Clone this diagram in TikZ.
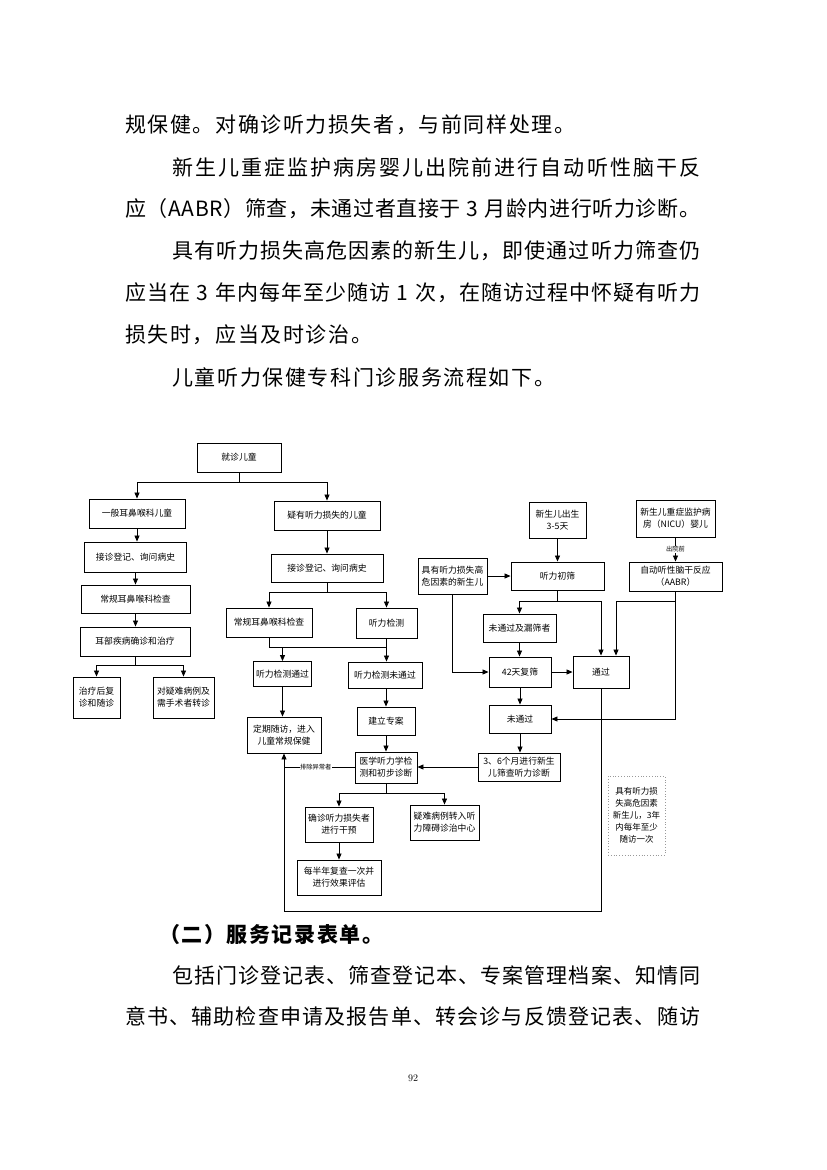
\documentclass[tikz,border=0pt]{standalone}
\usepackage{fontspec}
\newfontfamily\cjk{Noto Sans CJK SC}
\usetikzlibrary{arrows.meta}
\makeatletter
\def\jl@#1{\ifx\relax#1\unskip\else#1\hskip0pt plus1fil\relax\expandafter\jl@\fi}
\newcommand\jline[2]{\makebox[#1][s]{\jl@#2\relax}}
\makeatother
\tikzset{
  wh/.style 2 args={minimum width=#1pt,minimum height=#2pt},
  bx/.style={draw, line width=0.9pt, inner sep=1pt, align=center,
    font=\cjk\fontsize{8.8}{12}\selectfont},
  ln/.style={line width=0.8pt},
  arr/.style={line width=0.8pt, -{Triangle[length=6pt,width=5pt]}},
  lbl/.style={fill=white, inner sep=0.5pt, font=\cjk\fontsize{6.3}{7}\selectfont},
  bt/.style={anchor=west, inner sep=0pt, font=\cjk\fontsize{21}{21}\selectfont},
  note/.style={draw=gray!80, line width=0.8pt, dash pattern=on 0.8pt off 2pt,
    align=center, inner sep=1pt, font=\cjk\fontsize{8.5}{12}\selectfont}
}
\begin{document}
\begin{tikzpicture}[x=1pt,y=-1pt]
\fill[white] (0,0) rectangle (827,1170);
\path[use as bounding box] (0,0) rectangle (827,1170);

% body text
\node[bt] (l1) at (125,125) {\jline{450pt}{规保健。对确诊听力损失者，与前同样处理。}};
\node[bt] (l2) at (172,167) {\jline{528pt}{新生儿重症监护病房婴儿出院前进行自动听性脑干反}};
\node[bt] (l3) at (125,209) {\jline{575pt}{应（AABR）筛查，未通过者直接于~3~月龄内进行听力诊断。}};
\node[bt] (l4) at (172,251) {\jline{528pt}{具有听力损失高危因素的新生儿，即使通过听力筛查仍}};
\node[bt] (l5) at (125,293) {\jline{575pt}{应当在~3~年内每年至少随访~1~次，在随访过程中怀疑有听力}};
\node[bt] (l6) at (125,335) {\jline{247pt}{损失时，应当及时诊治。}};
\node[bt] (l7) at (172,377) {\jline{383pt}{儿童听力保健专科门诊服务流程如下。}};
\node[bt] (h2) at (159,935) {\bfseries\jline{224pt}{（二）服务记录表单。}};
\node[bt] (l8) at (172,975) {\jline{528pt}{包括门诊登记表、筛查登记本、专案管理档案、知情同}};
\node[bt] (l9) at (125,1017) {\jline{575pt}{意书、辅助检查申请及报告单、转会诊与反馈登记表、随访}};
\node[inner sep=0pt, font=\fontsize{10}{12}\selectfont] (pn) at (413,1078) {92};

% left column
\node[bx,wh={84}{29}] (jz) at (239,457.5) {就诊儿童};
\node[bx,wh={96}{29}] (yb) at (137,513.5) {一般耳鼻喉科儿童};
\node[bx,wh={102}{30}] (jzl) at (135.5,557) {接诊登记、询问病史};
\node[bx,wh={109}{28}] (cgl) at (135.5,599) {常规耳鼻喉科检查};
\node[bx,wh={110}{29}] (ebj) at (135,641.5) {耳部疾病确诊和治疗};
\node[bx,wh={47}{41}] (zlh) at (96.5,697.5) {治疗后复\\诊和随诊};
\node[bx,wh={61}{41}] (dyn) at (183.5,697.5) {对疑难病例及\\需手术者转诊};

% middle column
\node[bx,wh={106}{29}] (yy) at (327,515.5) {疑有听力损失的儿童};
\node[bx,wh={112}{28}] (jzm) at (327,568) {接诊登记、询问病史};
\node[bx,wh={86}{29}] (cgm) at (269,622.5) {常规耳鼻喉科检查};
\node[bx,wh={61}{30}] (tljc) at (386.5,623) {听力检测};
\node[bx,wh={58}{25}] (tltg) at (282.5,674) {听力检测通过};
\node[bx,wh={74}{26}] (tlwt) at (385,675) {听力检测未通过};
\node[bx,wh={74}{36}] (dqsf) at (284,735) {定期随访，进入\\儿童常规保健};
\node[bx,wh={58}{28}] (jlza) at (386,721) {建立专案};
\node[bx,wh={62}{31}] (yxtl) at (386,767.5) {医学听力学检\\测和初步诊断};
\node[bx,wh={68}{35}] (qz) at (339,824.5) {确诊听力损失者\\进行干预};
\node[bx,wh={69}{35}] (yn) at (444.5,822.5) {疑难病例转入听\\力障碍诊治中心};
\node[bx,wh={84}{35}] (mbn) at (339,877.5) {每半年复查一次并\\进行效果评估};

% right column
\node[bx,wh={57}{36}] (xsr) at (557.5,520) {新生儿出生\\3-5天};
\node[bx,wh={93}{28}] (tlcs) at (557.5,576) {听力初筛};
\node[bx,wh={69}{36}] (jygw) at (452.5,576) {具有听力损失高\\危因素的新生儿};
\node[bx,wh={73}{28}] (wtgl) at (519.5,628) {未通过及漏筛者};
\node[bx,wh={62}{30}] (fs42) at (520,672) {42天复筛};
\node[bx,wh={56}{32}] (tg) at (601,672) {通过};
\node[bx,wh={62}{28}] (wtg) at (520,719) {未通过};
\node[bx,wh={82}{28}] (m36) at (519,767) {3、6个月进行新生\\儿筛查听力诊断};
\node[bx,wh={79}{37}] (nicu) at (675.5,518.5) {新生儿重症监护病\\房（NICU）婴儿};
\node[bx,wh={93}{29}] (aabr) at (675.5,576.5) {自动听性脑干反应\\（AABR）};
\node[note,wh={57}{79}] (gw) at (636.5,815.5) {具有听力损\\失高危因素\\新生儿，3年\\内每年至少\\随访一次};

% left connectors
\coordinate (j1) at (jz.south |- 0,482);
\draw[ln] (jz.south) -- (j1);
\draw[arr] (j1) -| (yb.north);
\draw[arr] (j1) -| (yy.north);
\draw[arr] (yb.south) -- (yb.south |- jzl.north);
\draw[arr] (jzl.south) -- (jzl.south |- cgl.north);
\draw[arr] (cgl.south) -- (cgl.south |- ebj.north);
\coordinate (e1) at (ebj.south |- 0,665);
\draw[ln] (ebj.south) -- (e1);
\draw[arr] (e1) -| (zlh.north);
\draw[arr] (e1) -| (dyn.north);

% middle connectors
\draw[arr] (yy.south) -- (jzm.north);
\coordinate (m1) at (jzm.south |- 0,592);
\draw[ln] (jzm.south) -- (m1);
\draw[arr] (m1) -| (cgm.north);
\draw[arr] (m1) -| (tljc.north);
\coordinate (m2) at (tljc.south |- 0,647);
\coordinate (m3) at (tltg.north |- 0,647);
\draw[ln] (cgm.south) |- (m2);
\draw[arr] (tljc.south) -- (tljc.south |- tlwt.north);
\draw[arr] (m3) -- (tltg.north);
\draw[arr] (tltg.south) -- (tltg.south |- dqsf.north);
\draw[arr] (tlwt.south -| jlza.north) -- (jlza.north);
\draw[arr] (jlza.south) -- (yxtl.north);
\coordinate (p1) at (yxtl.west -| dqsf.south);
\draw[ln] (yxtl.west) -- node[lbl, pos=0.55]{排除异常者} (p1);
\coordinate (b1) at (tg.south |- 0,911);
\coordinate (b2) at (dqsf.south |- 0,911);
\draw[arr] (tg.south) -- (b1) -- (b2) -- (dqsf.south);
\coordinate (q1) at (yxtl.south |- 0,793);
\draw[ln] (yxtl.south) -- (q1);
\draw[arr] (q1) -| (qz.north);
\draw[arr] (q1) -| (yn.north);
\draw[arr] (qz.south) -- (mbn.north);

% right connectors
\draw[arr] (xsr.south) -- (tlcs.north);
\draw[arr] (jygw.east) -- (tlcs.west);
\draw[arr] (jygw.south) |- (fs42.west);
\coordinate (t1) at (tlcs.south |- 0,601);
\draw[ln] (tlcs.south) -- (t1);
\draw[arr] (t1) -| (wtgl.north);
\draw[arr] (t1) -| (tg.north);
\draw[arr] (wtgl.south) -- (wtgl.south |- fs42.north);
\draw[arr] (fs42.east) -- (tg.west);
\draw[arr] (fs42.south) -- (wtg.north);
\draw[arr] (wtg.south) -- (wtg.south |- m36.north);
\draw[arr] (m36.west) -- (m36.west -| yxtl.east);
\draw[arr] (nicu.south) -- node[lbl]{出院前} (aabr.north);
\coordinate (a1) at (aabr.south |- 0,601.5);
\coordinate (a2) at (616,601.5);
\draw[ln] (a1) -- (a2);
\draw[arr] (a2) -- (a2 |- tg.north);
\draw[arr] (aabr.south) |- (wtg.east);
\end{tikzpicture}
\end{document}
